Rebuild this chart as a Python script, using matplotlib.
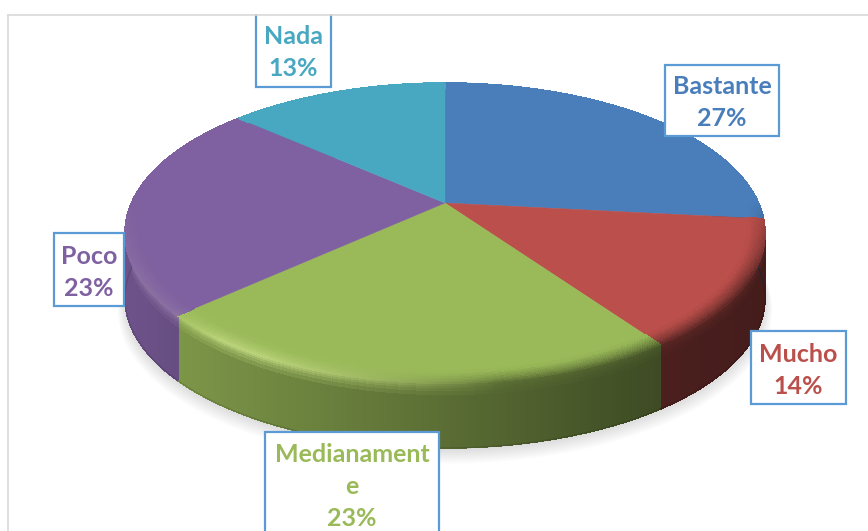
import matplotlib
matplotlib.use("Agg")
import matplotlib.pyplot as plt
import numpy as np
from matplotlib.collections import LineCollection, PolyCollection
from matplotlib.colors import to_rgb
from matplotlib.patches import Polygon, Rectangle

categories = ["Bastante", "Mucho", "Medianamente", "Poco", "Nada"]
values = [26.7, 13.6, 22.9, 23.4, 13.4]
colors = ["#4a7ebb", "#bb4f4b", "#9aba59", "#7f60a0", "#49a8c1"]
label_text = ["Bastante", "Mucho", "Medianament\ne", "Poco", "Nada"]

# label boxes in pixels: left, top, right, bottom, first text line
boxes = [(665, 65, 779, 136, 86), (751, 331, 846, 404, 354), (265, 432, 439, 545, 455),
         (54, 233, 124, 306, 256), (256, 10, 331, 87, 37)]

# pie geometry in pixels, perspective of the tilted disc
CX, CY = 445, 203
RX, RY = 313.5, 103.4
PERSP = -0.2
DEPTH = 65


def project(a, r=1.0, z=0.0):
    u = r * np.sin(a)
    v = -r * np.cos(a)
    w = 1 + PERSP * v
    return CX + RX * u / w, (CY + RY * v) / w + z


def mix(c, other, t):
    return tuple(np.array(c) * (1 - t) + np.array(other) * t)


def side_factor(x):
    return np.interp(x, [125, 185, 430, 660, 770], [0.86, 0.80, 0.60, 0.40, 0.36])


fig = plt.figure(figsize=(8.68, 5.31), dpi=100)
ax = fig.add_axes([0, 0, 1, 1])
ax.set_xlim(0, 868)
ax.set_ylim(531, 0)
ax.axis("off")

# chart frame
ax.plot([7.5, 7.5], [531, 14.5], color="#d9d9d9", lw=1.2, zorder=1)

# soft shadow under the pie
all_a = np.linspace(0, 2 * np.pi, 361)
for i in range(12):
    x, y = project(all_a, 1.0 + 0.002 * i, DEPTH + 1 + 0.9 * i)
    ax.add_patch(Polygon(np.column_stack([x, y]), fc="black", ec="none", alpha=0.012, zorder=2))

fractions = np.array(values) / sum(values)
edges = np.concatenate([[0], np.cumsum(fractions)]) * 2 * np.pi

for i, col in enumerate(colors):
    base = to_rgb(col)
    n = max(int(np.degrees(edges[i + 1] - edges[i]) * 3), 2) + 1
    a = np.linspace(edges[i], edges[i + 1], n)
    quads, quad_cols = [], []
    bevel, bevel_cols = [], []
    low_segs, low_cols = [], []
    for a0, a1 in zip(a[:-1], a[1:]):
        x0, y0 = project(a0)
        x1, y1 = project(a1)
        xm = (x0 + x1) / 2
        front = np.clip((-np.cos((a0 + a1) / 2) + 0.02) / 0.5, 0, 1)
        dark = tuple(np.array(base) * side_factor(xm))
        # highlight on the lit left part of the rim, dark on the right
        lit = np.clip((500 - xm) / 240, 0, 1)
        hot = (0.25 + 0.75 * np.clip((xm - 170) / 50, 0, 1)) * lit
        rim = mix(mix(base, dark, 0.85 * (1 - lit)), (0.95, 1, 0.7), 0.42 * hot)

        # side wall, top strip fades from the rim colour
        zs = [0, 2, 4, 6, 9, 13, 18, DEPTH]
        for k in range(len(zs) - 1):
            t = min(k / 5, 1)
            c = mix(rim, dark, t)
            quads.append([(x0, y0 + zs[k]), (x1, y1 + zs[k]), (x1, y1 + zs[k + 1]), (x0, y0 + zs[k + 1])])
            quad_cols.append(c)
        low_segs.append([(x0, y0 + DEPTH), (x1, y1 + DEPTH)])
        low_cols.append(tuple(np.array(dark) * 0.85))

        # bevel on the top face, just inside the rim
        rs = np.linspace(1.0, 0.945, 9)
        for k in range(len(rs) - 1):
            t = (k + 0.5) / 8
            c = mix(mix(base, rim, front), base, t ** 0.7)
            xa, ya = project(a0, rs[k])
            xb, yb = project(a1, rs[k])
            xc, yc = project(a1, rs[k + 1])
            xd, yd = project(a0, rs[k + 1])
            bevel.append([(xa, ya), (xb, yb), (xc, yc), (xd, yd)])
            bevel_cols.append(c)

    ax.add_collection(PolyCollection(quads, facecolors=quad_cols, edgecolors=quad_cols,
                                     linewidths=0.5, antialiaseds=False, zorder=3))
    # smooth the lower edge of the wall
    ax.add_collection(LineCollection(low_segs, colors=low_cols, linewidths=0.8, zorder=3.5))

    # flat top of the slice
    xs, ys = project(a)
    pts = np.column_stack([np.r_[CX, xs], np.r_[CY, ys]])
    ax.add_patch(Polygon(pts, fc=base, ec=base, lw=0.3, zorder=4 + i * 0.01))
    ax.add_collection(PolyCollection(bevel, facecolors=bevel_cols, edgecolors=bevel_cols,
                                     linewidths=0.5, antialiaseds=False, zorder=5))
    back = np.cos(a) > 0
    ax.plot(xs[back], ys[back], color=base, lw=0.8, zorder=5.5)

# labels
for i, name in enumerate(label_text):
    l, t, r, b, y0 = boxes[i]
    ax.add_patch(Rectangle((l, t), r - l, b - t, fc="white", ec="#5b9bd5", lw=1.6, zorder=6))
    lines = name.split("\n") + [f"{round(values[i])}%"]
    for k, line in enumerate(lines):
        ax.text((l + r) / 2, y0 + 32 * k, line, color=colors[i], family="Lato", weight="bold",
                fontsize=18, ha="center", va="center", zorder=7)

# cover above the frame so the Nada box is cut by it
ax.add_patch(Rectangle((0, 0), 868, 14, fc="white", ec="none", zorder=8))
ax.plot([7.5, 868], [14.5, 14.5], color="#d9d9d9", lw=1.2, zorder=9)

fig.savefig("out.png", dpi=100)
